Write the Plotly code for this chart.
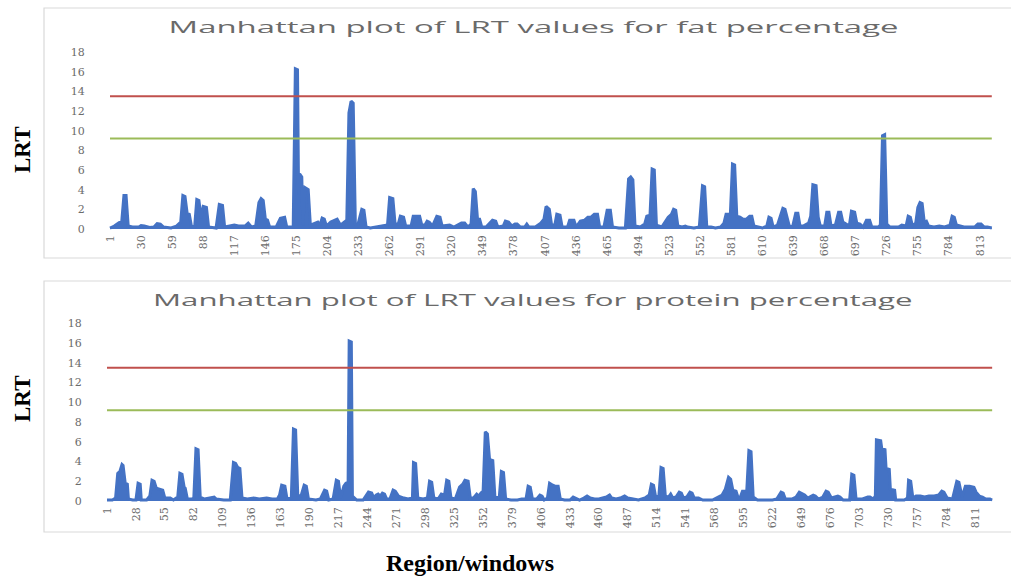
import plotly.graph_objects as go

# LRT per genomic window (window index, LRT), fat percentage
fat_window = [1, 5, 9, 12, 14, 16, 18, 22, 28, 30, 33, 38, 42, 45, 48, 51, 58, 63, 67, 69, 71, 73, 75, 77, 80,
              82, 84, 86, 88, 91, 93, 100, 103, 106, 108, 112, 117, 121, 127, 130, 133, 137, 140, 142, 144,
              146, 148, 150, 156, 160, 164, 166, 172, 174, 176, 177, 178, 180, 181, 183, 186, 188, 192, 195,
              197, 199, 201, 203, 207, 211, 213, 216, 219, 222, 224, 226, 228, 230, 232, 236, 238, 240, 244,
              250, 256, 260, 262, 265, 267, 270, 272, 275, 277, 282, 284, 290, 292, 295, 297, 299, 302, 306,
              309, 311, 318, 322, 329, 332, 335, 338, 340, 342, 344, 346, 348, 352, 358, 361, 363, 368, 370,
              373, 376, 379, 381, 384, 388, 390, 392, 398, 403, 406, 408, 411, 413, 416, 418, 421, 423, 428,
              430, 434, 436, 440, 444, 447, 450, 453, 456, 458, 462, 465, 468, 470, 476, 482, 485, 487, 489,
              491, 496, 500, 502, 505, 507, 509, 511, 516, 522, 525, 527, 529, 531, 535, 538, 540, 546, 551,
              554, 556, 558, 562, 566, 571, 574, 576, 580, 582, 584, 586, 589, 592, 595, 598, 600, 602, 606,
              610, 614, 616, 618, 620, 624, 627, 629, 631, 633, 635, 638, 641, 643, 645, 648, 653, 655, 657,
              660, 662, 664, 668, 670, 672, 674, 678, 681, 683, 685, 688, 691, 693, 696, 698, 701, 704, 707,
              710, 712, 718, 720, 722, 724, 726, 729, 734, 737, 740, 744, 746, 748, 750, 753, 755, 757, 759,
              761, 763, 765, 770, 775, 780, 785, 787, 789, 791, 794, 798, 802, 808, 811, 814, 817, 820, 824]
fat_lrt = [0.1, 0.3, 0.6, 0.8, 3.4, 3.4, 0.3, 0.2, 0.2, 0.35, 0.3, 0.15, 0.2, 0.55, 0.5, 0.2, 0.1, 0.3, 0.7,
           3.4, 3.3, 1.6, 1.5, 0.3, 0.2, 3.0, 2.9, 1.1, 2.3, 2.2, 0.2, 0.1, 2.5, 2.4, 0.2, 0.3, 0.4, 0.3, 0.3,
           0.6, 0.2, 0.3, 2.7, 3.1, 2.9, 1.0, 0.9, 0.2, 0.2, 1.1, 1.2, 0.2, 0.2, 16.3, 16.2, 3.5, 5.6, 5.3,
           0.4, 4.2, 4.0, 0.4, 0.6, 0.7, 0.4, 1.1, 1.0, 0.3, 0.7, 0.9, 1.0, 0.4, 0.7, 0.9, 11.8, 13.0, 12.8,
           0.5, 0.3, 2.0, 1.9, 0.2, 0.1, 0.2, 0.3, 0.4, 3.2, 3.1, 0.6, 0.5, 1.3, 1.2, 0.3, 0.3, 1.3, 1.3, 0.4,
           0.4, 0.8, 0.7, 0.3, 1.3, 1.2, 0.3, 0.4, 0.2, 0.6, 0.6, 0.2, 0.5, 4.1, 3.8, 1.0, 1.0, 0.2, 0.2, 0.9,
           0.8, 0.2, 0.3, 0.8, 0.7, 0.3, 0.5, 0.5, 0.2, 0.2, 0.5, 0.2, 0.2, 0.6, 1.0, 2.3, 2.0, 0.5, 0.3, 1.5,
           1.4, 0.2, 0.2, 0.9, 0.9, 0.2, 0.8, 0.9, 1.2, 1.2, 1.5, 1.5, 0.2, 0.2, 1.9, 1.9, 0.2, 0.1, 0.1, 5.1,
           5.3, 5.0, 0.3, 0.2, 0.5, 1.3, 1.4, 6.1, 6.0, 0.4, 0.2, 1.2, 1.5, 2.0, 1.9, 0.3, 0.2, 0.3, 0.2, 0.1,
           0.2, 4.4, 4.3, 0.2, 0.2, 0.1, 0.2, 0.6, 1.5, 1.5, 6.6, 6.5, 1.3, 1.2, 1.0, 1.0, 1.3, 1.3, 0.3, 0.2,
           0.1, 0.3, 1.2, 1.1, 0.2, 0.4, 1.5, 2.1, 2.0, 1.0, 0.3, 0.2, 1.6, 1.6, 0.3, 0.3, 0.6, 1.3, 4.5, 4.4,
           1.2, 0.3, 0.3, 1.7, 1.7, 0.3, 0.4, 1.7, 1.7, 0.7, 0.5, 0.3, 1.8, 1.7, 0.6, 0.5, 0.2, 0.9, 0.9, 0.2,
           0.2, 0.4, 9.5, 9.6, 0.5, 0.2, 0.2, 0.2, 0.4, 0.3, 1.3, 1.2, 0.3, 0.6, 2.2, 2.7, 2.6, 0.7, 0.8, 0.3,
           0.2, 0.3, 0.2, 0.4, 1.3, 1.2, 0.4, 0.3, 0.2, 0.2, 0.2, 0.5, 0.5, 0.2, 0.2, 0.1]

# LRT per genomic window (window index, LRT), protein percentage
protein_window = [1, 6, 9, 11, 13, 15, 16, 18, 20, 21, 25, 28, 30, 32, 33, 38, 41, 43, 45, 47, 50, 53, 55,
                  60, 63, 67, 69, 71, 73, 74, 76, 80, 82, 84, 86, 88, 92, 97, 101, 103, 110, 116, 119, 121,
                  123, 125, 127, 132, 138, 143, 150, 155, 160, 162, 164, 167, 169, 173, 175, 177, 179, 182,
                  185, 187, 189, 196, 200, 204, 206, 208, 212, 215, 217, 219, 222, 224, 226, 227, 229, 230,
                  234, 240, 245, 248, 250, 252, 254, 256, 258, 260, 262, 265, 268, 270, 273, 278, 282, 286,
                  287, 289, 291, 296, 300, 302, 304, 306, 310, 313, 316, 318, 320, 322, 326, 330, 333, 335,
                  338, 340, 343, 346, 348, 350, 352, 354, 356, 358, 361, 363, 367, 369, 371, 373, 378, 384,
                  388, 392, 394, 396, 398, 402, 405, 407, 409, 412, 414, 417, 419, 422, 424, 428, 433, 436,
                  438, 442, 446, 449, 452, 456, 460, 463, 467, 470, 472, 476, 480, 484, 487, 492, 497, 503,
                  507, 509, 511, 513, 516, 518, 520, 522, 525, 527, 529, 532, 535, 537, 539, 542, 545, 547,
                  549, 553, 557, 566, 570, 572, 575, 578, 581, 583, 585, 588, 590, 592, 594, 598, 600, 602,
                  604, 608, 615, 622, 626, 630, 632, 634, 640, 644, 647, 649, 652, 655, 660, 662, 665, 669,
                  672, 674, 677, 683, 685, 688, 694, 696, 698, 700, 706, 711, 713, 716, 718, 719, 723, 724,
                  727, 728, 731, 732, 736, 737, 745, 748, 749, 751, 753, 756, 760, 764, 768, 773, 777, 780,
                  782, 785, 790, 794, 796, 799, 802, 806, 810, 812, 815, 818, 821, 825, 827]
protein_lrt = [0.1, 0.1, 0.3, 2.8, 3.0, 3.7, 3.6, 1.8, 1.7, 0.2, 0.1, 0.1, 1.8, 1.7, 0.1, 0.1, 0.5, 2.1, 2.0,
               1.3, 1.2, 1.1, 0.3, 0.3, 0.1, 0.4, 2.8, 2.7, 1.4, 1.3, 0.2, 0.2, 0.3, 5.3, 5.2, 0.4, 0.2, 0.3,
               0.4, 0.2, 0.1, 0.1, 3.9, 3.8, 3.4, 3.3, 0.3, 0.2, 0.3, 0.2, 0.3, 0.2, 0.2, 0.6, 1.6, 1.5, 0.2,
               0.3, 7.3, 7.2, 0.6, 0.5, 1.6, 1.5, 0.2, 0.1, 0.2, 1.1, 1.0, 0.1, 0.2, 2.1, 2.0, 0.3, 1.5, 1.8,
               1.9, 16.2, 16.1, 0.5, 0.1, 0.1, 0.9, 0.8, 0.3, 0.6, 0.7, 0.5, 0.8, 0.7, 0.2, 0.2, 1.1, 1.0,
               0.5, 0.3, 0.2, 0.3, 3.9, 3.8, 0.3, 0.2, 0.3, 2.0, 1.9, 0.3, 0.2, 0.7, 0.6, 2.1, 2.0, 0.3, 0.2,
               1.4, 1.7, 2.1, 2.0, 0.3, 0.3, 0.7, 0.5, 0.8, 1.0, 7.0, 6.8, 4.2, 4.1, 0.4, 0.3, 3.0, 2.9, 0.2,
               0.1, 0.1, 0.2, 0.2, 1.5, 1.4, 0.2, 0.2, 0.6, 0.5, 0.1, 0.3, 1.8, 1.6, 1.5, 1.5, 0.2, 0.1, 0.1,
               0.4, 0.3, 0.1, 0.3, 0.5, 0.3, 0.2, 0.2, 0.3, 0.4, 0.6, 0.3, 0.2, 0.3, 0.5, 0.3, 0.2, 0.1, 0.3,
               0.6, 1.7, 1.6, 0.4, 0.5, 3.4, 3.3, 0.5, 0.4, 0.7, 0.3, 0.4, 0.9, 0.8, 0.3, 0.4, 0.9, 0.8, 0.3,
               0.3, 0.1, 0.1, 0.3, 0.4, 0.6, 1.2, 2.4, 2.2, 1.1, 1.0, 0.3, 0.4, 1.0, 1.0, 5.1, 5.0, 0.4, 0.1,
               0.1, 0.1, 0.2, 0.9, 0.8, 0.2, 0.2, 0.4, 0.9, 0.8, 0.6, 0.3, 0.6, 0.5, 0.2, 0.4, 1.0, 0.9, 0.3,
               0.5, 0.4, 0.1, 0.1, 2.7, 2.6, 0.2, 0.2, 0.4, 0.4, 0.2, 0.5, 6.2, 6.1, 5.3, 5.2, 3.3, 3.2, 1.2,
               1.1, 0.1, 0.1, 0.3, 2.1, 2.0, 0.3, 0.5, 0.5, 0.4, 0.5, 0.5, 0.6, 1.0, 0.9, 0.3, 0.2, 2.0, 1.9,
               0.4, 1.5, 1.5, 1.4, 0.9, 0.5, 0.4, 0.2, 0.2, 0.1]

# Significance thresholds
threshold_high = 13.5
threshold_low = 9.2

# Category-axis labels
fat_ticks = [1, 30, 59, 88, 117, 146, 175, 204, 233, 262, 291, 320, 349, 378, 407, 436, 465, 494, 523,
             552, 581, 610, 639, 668, 697, 726, 755, 784, 813]
protein_ticks = [1, 28, 55, 82, 109, 136, 163, 190, 217, 244, 271, 298, 325, 352, 379, 406, 433, 460, 487,
                 514, 541, 568, 595, 622, 649, 676, 703, 730, 757, 784, 811]
y_ticks = [0, 2, 4, 6, 8, 10, 12, 14, 16, 18]

W, H = 1011, 581
BLUE = "#4472C4"
RED = "#C0504D"
GREEN = "#9BBB59"
TICK_FONT = dict(family="DejaVu Serif", size=11, color="#6b6b6b")


def py(px):
    return 1 - px / H


fig = go.Figure()

panels = [
    (fat_window, fat_lrt, "x", "y"),
    (protein_window, protein_lrt, "x2", "y2"),
]
for wins, vals, xa, ya in panels:
    fig.add_trace(go.Scatter(x=wins, y=vals, mode="lines", fill="tozeroy",
                             line=dict(color=BLUE, width=3), fillcolor=BLUE,
                             xaxis=xa, yaxis=ya, showlegend=False))
    for level, col in [(threshold_high, RED), (threshold_low, GREEN)]:
        fig.add_trace(go.Scatter(x=[wins[0], wins[-1]], y=[level, level], mode="lines",
                                 line=dict(color=col, width=2), xaxis=xa, yaxis=ya,
                                 showlegend=False))

# pixel layout of each panel: (x of window 1, px per window, y of LRT 0, px per LRT unit)
top_x0, top_dx, top_y0, top_dy = 110, 870 / 812, 229, 9.83
bot_x0, bot_dx, bot_y0, bot_dy = 107, 868 / 810, 501, 9.87
ypad = 0.3


def xaxis_cfg(x0, dx, ticks, left_px, right_px, anchor):
    lo = 1 + (left_px - x0) / dx
    hi = 1 + (right_px - x0) / dx
    return dict(domain=[left_px / W, right_px / W], range=[lo, hi], tickvals=ticks,
                ticktext=[str(t) for t in ticks], tickangle=-90, tickfont=TICK_FONT,
                showgrid=False, zeroline=False, showline=False, ticks="", anchor=anchor)


def yaxis_cfg(y0, dy, anchor):
    bottom_px = y0 + ypad * dy
    top_px = y0 - 18 * dy
    return dict(domain=[py(bottom_px), py(top_px)], range=[-ypad, 18], tickvals=y_ticks,
                tickfont=TICK_FONT, showgrid=False, zeroline=False, showline=False,
                ticks="outside", ticklen=20, tickcolor="rgba(0,0,0,0)", anchor=anchor)


fig.update_layout(
    width=W, height=H, margin=dict(l=0, r=0, t=0, b=0, autoexpand=False),
    paper_bgcolor="white", plot_bgcolor="rgba(0,0,0,0)",
    xaxis=xaxis_cfg(top_x0, top_dx, fat_ticks, 108, 994, "y"),
    yaxis=yaxis_cfg(top_y0, top_dy, "x"),
    xaxis2=xaxis_cfg(bot_x0, bot_dx, protein_ticks, 105, 994, "y2"),
    yaxis2=yaxis_cfg(bot_y0, bot_dy, "x2"),
)

# chart frames
for y_top, y_bot in [(8, 258), (281, 532)]:
    fig.add_shape(type="rect", xref="paper", yref="paper", x0=44 / W, x1=1.01,
                  y0=py(y_bot), y1=py(y_top), line=dict(color="#d9d9d9", width=1.2),
                  fillcolor="rgba(0,0,0,0)", layer="below")

TITLE_FONT = dict(family="Open Sans", size=16, color="#6a6a6a")
LABEL_FONT = dict(family="Liberation Serif", size=23, color="black")

fig.add_annotation(text="Manhattan plot of LRT values for fat percentage", x=533 / W, y=py(27),
                   xref="paper", yref="paper", showarrow=False, font=TITLE_FONT,
                   xanchor="center", yanchor="middle")
fig.add_annotation(text="Manhattan plot of LRT values for protein percentage", x=533 / W, y=py(300),
                   xref="paper", yref="paper", showarrow=False, font=TITLE_FONT,
                   xanchor="center", yanchor="middle")
for yc in (150, 399):
    fig.add_annotation(text="<b>LRT</b>", x=22 / W, y=py(yc), xref="paper", yref="paper",
                       showarrow=False, textangle=-90, font=LABEL_FONT,
                       xanchor="center", yanchor="middle")
fig.add_annotation(text="<b>Region/windows</b>", x=470 / W, y=py(563), xref="paper", yref="paper",
                   showarrow=False, font=dict(family="Liberation Serif", size=24, color="black"),
                   xanchor="center", yanchor="middle")

# page without body margin; chart titles drawn in a wide (horizontally extended) style
page_js = """
document.body.style.margin = '0';
document.body.style.padding = '0';
var widths = {'fat': 730, 'protein': 760};
document.querySelectorAll('.annotation-text').forEach(function (t) {
  var s = t.textContent;
  if (s.indexOf('Manhattan') !== 0) { return; }
  var target = s.indexOf('protein') >= 0 ? widths.protein : widths.fat;
  var b = t.getBBox();
  var k = target / b.width;
  var cx = b.x + b.width / 2;
  t.setAttribute('transform', 'translate(' + cx + ',0) scale(' + k + ',1) translate(' + (-cx) + ',0)');
});
"""

fig.write_html("out.html", post_script=page_js)
